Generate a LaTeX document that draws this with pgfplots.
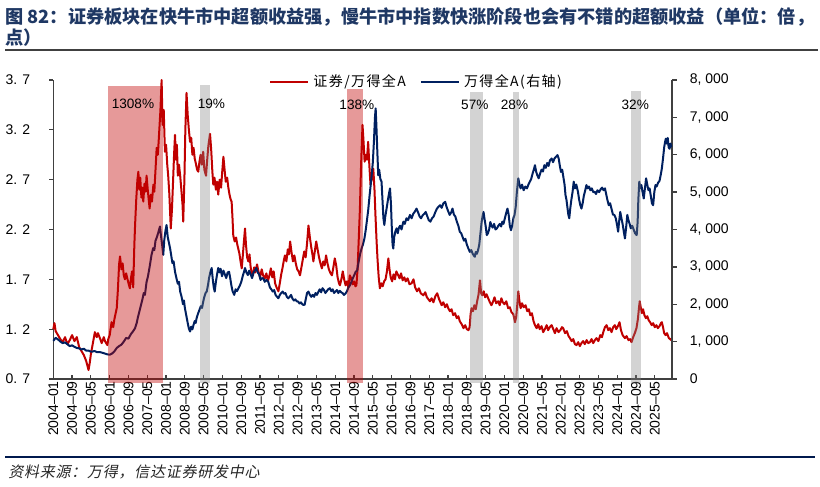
\documentclass[border=0pt]{standalone}
\usepackage{fontspec}
\setmainfont{Liberation Sans}
\newfontfamily\cjk{Noto Sans CJK SC}
\newfontfamily\cjkl[LetterSpace=10]{Noto Sans CJK SC}
\newfontfamily\cjks[LetterSpace=5,FakeSlant=0.2]{Noto Sans CJK SC}
\usepackage{pgfplots}
\pgfplotsset{compat=1.18}
\definecolor{lred}{RGB}{192,0,0}
\definecolor{lnavy}{RGB}{0,32,96}
\definecolor{ttl}{RGB}{31,56,100}
\definecolor{axgray}{RGB}{64,64,64}
\begin{document}
\begin{tikzpicture}
\useasboundingbox (0,0) rectangle (410pt,243.5pt);
\node[anchor=west,inner sep=0pt,text=ttl] at (2.5pt,235pt) {\cjk\bfseries\fontsize{9.1}{11}\selectfont 图 82：证券板块在快牛市中超额收益强，慢牛市中指数快涨阶段也会有不错的超额收益（单位：倍，};
\node[anchor=west,inner sep=0pt,text=ttl] at (2.5pt,224.5pt) {\cjk\bfseries\fontsize{9.1}{11}\selectfont 点）};
\draw[axgray,line width=0.9pt] (2.5pt,218.5pt) -- (409pt,218.5pt);
\draw[lnavy!80!black,line width=0.9pt] (2.5pt,15pt) -- (407.5pt,15pt);
\node[anchor=west,inner sep=0pt,text=black!85] at (4pt,7.5pt) {\cjks\fontsize{7.5}{9}\selectfont 资料来源：万得，信达证券研发中心};

\begin{axis}[
  at={(26.65pt,54pt)}, anchor=south west, scale only axis,
  width=309.2pt, height=149.5pt,
  xmin=0, xmax=263.2, ymin=0.7, ymax=3.7,
  axis y line*=left, axis x line*=bottom,
  axis line style={axgray,line width=0.7pt,-},
  xtick={0,8,...,256},
  xticklabels={2004--01,2004--09,2005--05,2006--01,2006--09,2007--05,2008--01,2008--09,2009--05,2010--01,2010--09,2011--05,2012--01,2012--09,2013--05,2014--01,2014--09,2015--05,2016--01,2016--09,2017--05,2018--01,2018--09,2019--05,2020--01,2020--09,2021--05,2022--01,2022--09,2023--05,2024--01,2024--09,2025--05},
  xticklabel style={rotate=90,anchor=east,font=\fontsize{7}{8}\selectfont,inner sep=1pt},
  x tick style={axgray,line width=0.6pt},
  xtick align=inside, major tick length=2pt,
  ytick={0.7,1.2,1.7,2.2,2.7,3.2,3.7},
  yticklabels={0. 7,1. 2,1. 7,2. 2,2. 7,3. 2,3. 7},
  yticklabel style={font=\fontsize{7}{8}\selectfont,xshift=-6pt},
  ytick align=outside, y tick style={axgray,line width=0.6pt},
  clip=false,
]
\addplot[lred, line width=1pt, line join=round] coordinates {
(0,1.20)(0.5,1.26)(1,1.18)(2,1.14)(3,1.10)(4,1.07)(5,1.12)(6,1.05)(7,1.09)(8,1.14)(9,1.08)(10,1.12)(11,1.02)(12,0.98)(13,0.94)(14,0.88)(15,0.79)(15.5,0.86)(16,0.95)(17,1.08)(17.7,1.17)(18.5,1.12)(19,1.16)(20,1.10)(20.6,1.06)(21.5,1.12)(22,1.08)(23,1.04)(23.4,1.10)(24,1.14)(24.8,1.27)(25.5,1.22)(26,1.30)(27,1.41)(27.5,1.60)(28,1.85)(28.4,1.93)(29,1.80)(29.5,1.86)(30,1.74)(30.5,1.70)(31,1.76)(32,1.66)(32.6,1.61)(33,1.70)(33.5,1.78)(34,1.62)(34.5,2.05)(34.8,2.24)(35.3,2.50)(35.8,2.70)(36.2,2.78)(36.6,2.60)(37,2.72)(37.5,2.52)(38,2.62)(38.3,2.48)(38.8,2.66)(39.3,2.58)(39.7,2.74)(40.2,2.60)(40.6,2.50)(41,2.41)(41.5,2.55)(42,2.48)(42.6,2.65)(43,2.58)(43.5,2.80)(44,3.02)(44.5,2.95)(45,3.15)(45.6,3.40)(46.1,3.70)(46.5,3.25)(47,3.40)(47.5,2.98)(48,3.05)(48.5,2.85)(48.9,2.74)(49.4,2.55)(50,2.21)(50.5,2.40)(51,2.70)(51.4,2.95)(51.8,3.15)(52.2,2.90)(52.6,3.05)(53,2.74)(53.5,2.85)(54,2.74)(54.5,2.60)(55,2.45)(55.3,2.28)(55.8,2.70)(56.2,3.20)(56.7,3.57)(57.2,3.35)(57.7,3.20)(58.2,3.08)(58.7,3.12)(59.2,2.95)(59.7,3.02)(60.2,2.91)(60.7,2.86)(61.2,2.80)(61.7,2.78)(62.2,2.88)(62.7,2.95)(63.2,2.85)(63.8,2.98)(64.3,2.80)(65,2.74)(65.5,2.90)(66,3.04)(66.7,3.16)(67.2,3.00)(67.7,2.78)(68.1,2.65)(68.6,2.72)(69.2,2.60)(69.7,2.68)(70.2,2.55)(70.8,2.70)(71.4,2.62)(71.9,2.78)(72.4,2.93)(72.9,2.80)(73.4,2.68)(74,2.72)(74.5,2.62)(75,2.55)(75.5,2.50)(75.9,2.48)(76.3,2.30)(76.6,2.14)(77.2,2.08)(77.8,2.12)(78.3,2.05)(78.7,2.01)(79.2,1.96)(79.7,1.88)(80.2,1.81)(80.7,1.95)(81.2,2.10)(81.6,2.21)(82,2.05)(82.5,1.92)(83,1.88)(83.5,1.95)(84,1.82)(84.5,1.76)(85,1.74)(85.5,1.82)(86,1.77)(86.7,1.85)(87.3,1.78)(88,1.72)(88.7,1.80)(89.3,1.74)(90,1.71)(90.7,1.76)(91.3,1.68)(92,1.74)(92.6,1.81)(93.2,1.72)(93.8,1.78)(94.4,1.66)(95,1.62)(95.8,1.58)(96.4,1.66)(97,1.75)(97.6,1.82)(98.2,1.90)(98.6,1.94)(99.2,1.88)(99.8,2.00)(100.3,1.95)(100.8,2.08)(101.4,1.97)(102,1.88)(102.6,1.94)(103.2,1.86)(103.8,1.80)(104.4,1.78)(105,1.74)(105.6,1.82)(106.2,1.90)(106.8,1.98)(107.4,1.92)(108,2.06)(108.6,2.24)(109.2,2.12)(109.8,2.02)(110.3,1.95)(110.7,1.88)(111.3,1.98)(111.9,2.08)(112.5,2.00)(113.1,1.92)(113.7,1.86)(114.3,1.81)(114.9,1.88)(115.5,1.84)(116.1,1.94)(116.7,1.86)(117.3,1.80)(118,1.76)(118.6,1.74)(119.2,1.82)(119.8,1.91)(120.4,1.84)(121,1.72)(121.6,1.66)(122,1.64)(122.6,1.70)(123.2,1.78)(123.8,1.70)(124.4,1.64)(125,1.68)(125.6,1.62)(126.2,1.74)(126.8,1.71)(127.4,1.65)(128,1.68)(128.6,1.63)(129,1.64)(129.5,1.80)(130,2.10)(130.5,2.41)(131,2.85)(131.6,3.25)(132,3.10)(132.5,2.88)(133,2.95)(133.5,2.90)(134,3.08)(134.5,2.85)(135,2.65)(135.6,2.72)(136.2,2.81)(136.7,2.60)(137.1,2.35)(137.6,2.08)(138,1.90)(138.5,1.72)(139,1.61)(139.6,1.66)(140.2,1.63)(140.8,1.68)(141.4,1.70)(142,1.78)(142.6,1.91)(143.1,1.80)(143.6,1.72)(144.2,1.68)(144.8,1.75)(145.4,1.70)(146,1.78)(146.8,1.74)(147.4,1.71)(148,1.76)(148.7,1.69)(149.4,1.72)(150,1.68)(150.8,1.71)(151.6,1.65)(152.5,1.66)(153.3,1.70)(154,1.62)(154.8,1.58)(155.6,1.61)(156.4,1.56)(157.5,1.54)(158.3,1.57)(159,1.52)(160.3,1.48)(161,1.51)(161.8,1.47)(162.6,1.53)(163.4,1.56)(164.2,1.50)(165.3,1.44)(166,1.47)(166.8,1.42)(167.5,1.45)(168.1,1.41)(168.8,1.38)(169.5,1.40)(170.2,1.34)(171,1.36)(171.7,1.31)(172.4,1.33)(173,1.28)(173.8,1.25)(174.6,1.21)(175.3,1.24)(176,1.20)(176.7,1.19)(177.2,1.22)(177.6,1.35)(178,1.41)(178.6,1.38)(179.2,1.44)(179.8,1.40)(180.4,1.48)(181,1.55)(181.6,1.69)(182.1,1.56)(182.6,1.54)(183.2,1.58)(183.8,1.52)(184.4,1.55)(185.1,1.51)(185.8,1.47)(186.5,1.44)(187.2,1.48)(187.8,1.52)(188.5,1.46)(189.4,1.48)(190,1.44)(190.7,1.51)(191.3,1.47)(192,1.45)(192.8,1.48)(193.6,1.41)(194.3,1.42)(195,1.37)(195.8,1.35)(196.5,1.27)(197,1.32)(197.5,1.45)(197.9,1.58)(198.4,1.48)(198.9,1.41)(199.5,1.46)(200.2,1.42)(201,1.44)(201.7,1.38)(202.4,1.40)(203,1.34)(203.7,1.36)(204.4,1.28)(205,1.24)(205.7,1.21)(206.4,1.25)(207,1.20)(207.8,1.23)(208.5,1.17)(209.2,1.20)(210,1.24)(210.6,1.19)(211.3,1.22)(212.1,1.24)(212.8,1.20)(213.5,1.16)(214.2,1.21)(215,1.17)(215.8,1.19)(216.5,1.22)(217,1.21)(217.8,1.16)(218.6,1.18)(219.3,1.13)(219.9,1.11)(220.6,1.08)(221.3,1.10)(222,1.05)(222.7,1.04)(223.4,1.07)(224.1,1.03)(224.8,1.06)(225.5,1.08)(226.2,1.05)(227,1.09)(227.7,1.06)(228.4,1.07)(229.1,1.10)(229.8,1.06)(230.5,1.09)(231.2,1.11)(232,1.08)(232.8,1.14)(233.5,1.12)(234.2,1.18)(234.8,1.22)(235.5,1.24)(236.2,1.19)(236.9,1.21)(237.6,1.17)(238.3,1.22)(239,1.24)(239.6,1.20)(240.3,1.23)(241,1.27)(241.6,1.19)(242.3,1.14)(243.3,1.11)(244,1.13)(244.8,1.09)(245.5,1.10)(246.1,1.07)(246.8,1.12)(247.5,1.16)(248.2,1.21)(248.8,1.30)(249.3,1.42)(249.6,1.48)(250,1.42)(250.5,1.36)(251,1.40)(251.6,1.34)(252.2,1.31)(252.8,1.33)(253.4,1.29)(254,1.27)(254.7,1.24)(255.3,1.26)(256,1.22)(256.7,1.24)(257.3,1.21)(258,1.23)(258.6,1.26)(259,1.27)(259.5,1.22)(260,1.16)(260.6,1.14)(261.2,1.16)(262,1.11)(262.6,1.10)(263,1.09)
};
\end{axis}

\begin{axis}[
  at={(26.65pt,54pt)}, anchor=south west, scale only axis,
  width=309.2pt, height=149.5pt,
  xmin=0, xmax=263.2, ymin=0, ymax=8000,
  axis y line*=right, axis x line=none,
  axis line style={axgray,line width=1pt,-},
  ytick={0,1000,...,8000},
  yticklabels={0,{1, 000},{2, 000},{3, 000},{4, 000},{5, 000},{6, 000},{7, 000},{8, 000}},
  yticklabel style={font=\fontsize{7}{8}\selectfont,xshift=3pt},
  ytick align=outside, major tick length=2.5pt, y tick style={axgray,line width=0.7pt},
  clip=false,
  legend columns=2,
  legend style={draw=none,fill=none,at={(0.589,0.993)},anchor=center,
    font=\fontsize{7}{8}\selectfont, /tikz/every even column/.append style={column sep=5pt},
    inner sep=0pt},
  legend image code/.code={\draw[#1,line width=1.1pt] (0pt,0pt) -- (19pt,0pt);},
]
\addlegendimage{lred}
\addlegendentry{\cjkl 证券/万得全A}
\addplot[lnavy, line width=1pt, line join=round] coordinates {
(0,1020)(1,1100)(2,1060)(3,1000)(4,960)(5,980)(6,930)(7,880)(8,900)(9,860)(10,830)(11,820)(12,790)(13,810)(14,760)(15,760)(15.6,740)(16.5,730)(17.5,750)(18.5,720)(19.8,720)(21,700)(22,680)(23,660)(24,650)(25,680)(26,740)(27,830)(28,880)(29,920)(30,1000)(31,1100)(32,1080)(33,1200)(34,1280)(34.8,1360)(35.5,1500)(36,1650)(37,1900)(38,2150)(38.5,2300)(39,2250)(39.7,2600)(40.3,2750)(41,3000)(41.8,3320)(42.5,3500)(43,3450)(43.5,3700)(44,3780)(44.6,3900)(45.4,4080)(45.8,3850)(46.3,3600)(46.8,3320)(47.2,3700)(47.7,3950)(48.2,4120)(48.7,3800)(49.2,3650)(49.7,3500)(50.2,3300)(50.7,3100)(51.2,3150)(51.8,2870)(52.4,2700)(53,2550)(53.5,2600)(54,2340)(54.6,2200)(55.2,2000)(55.6,2100)(56,1900)(56.6,1700)(57.2,1500)(57.7,1350)(58.2,1270)(58.7,1400)(59.2,1330)(59.7,1450)(60.2,1550)(60.6,1500)(61,1630)(61.6,1750)(62.2,1850)(62.8,1950)(63.3,1900)(63.8,2070)(64.3,2200)(64.8,2300)(65.3,2340)(65.8,2500)(66.3,2700)(66.8,2850)(67.4,2970)(67.9,2650)(68.3,2450)(68.7,2340)(69.2,2600)(69.7,2800)(70.2,2970)(70.7,2850)(71.2,2950)(71.8,2750)(72.4,2900)(73,2800)(73.6,2700)(74.2,2850)(74.8,2870)(75.3,2700)(75.8,2500)(76.3,2350)(77,2250)(77.6,2400)(78.2,2350)(78.8,2430)(79.4,2500)(80,2600)(80.6,2750)(81.1,2850)(81.6,2970)(82.2,2850)(82.8,2780)(83.4,2900)(84,2800)(84.6,2700)(85.2,2850)(85.8,2900)(86.4,2970)(87,2850)(87.6,2800)(88.2,2650)(88.8,2700)(89.4,2690)(90,2600)(90.7,2650)(91.5,2600)(92.2,2450)(92.8,2400)(93.4,2340)(94,2380)(94.6,2250)(95.2,2200)(95.8,2160)(96.4,2250)(97,2300)(97.6,2340)(98.2,2280)(98.8,2300)(99.4,2200)(100,2160)(100.6,2200)(101.2,2250)(101.8,2150)(102.4,2100)(103,2130)(103.6,2080)(104.2,2070)(104.8,2020)(105.4,2050)(106,2000)(106.5,1980)(107,1990)(107.5,2150)(108,2300)(108.6,2340)(109.2,2250)(109.8,2200)(110.4,2250)(111,2200)(111.6,2300)(112.2,2250)(112.8,2330)(113.4,2400)(114,2320)(114.6,2430)(115.2,2380)(115.8,2300)(116.4,2350)(117,2400)(117.7,2430)(118.3,2350)(118.9,2400)(119.5,2300)(120.1,2340)(120.7,2380)(121.3,2300)(121.9,2360)(122.5,2320)(123.1,2300)(123.7,2250)(124.3,2280)(125,2350)(125.6,2450)(126.3,2510)(126.9,2600)(127.5,2700)(128.1,2780)(128.7,2870)(129.3,2900)(130,3150)(130.6,3350)(131.2,3490)(131.8,3600)(132.4,3750)(133,4000)(133.4,4200)(134,4500)(134.6,4900)(135.1,5200)(135.5,5450)(136,5800)(136.5,6400)(136.9,7000)(137.2,7240)(137.5,6800)(137.9,6100)(138.3,5450)(138.7,5600)(139.2,5350)(139.7,5280)(140.1,4800)(140.5,4300)(140.9,4120)(141.3,4350)(141.7,4500)(142.2,4700)(142.7,4900)(143.3,5100)(143.7,4700)(144.1,4000)(144.4,3600)(144.7,3490)(145.1,3800)(145.6,3950)(146.1,4030)(146.6,3900)(147.1,4050)(147.6,4100)(148.2,4000)(149,4210)(149.6,4150)(150.3,4300)(151,4250)(151.8,4390)(152.5,4300)(153.2,4420)(153.9,4480)(154.6,4560)(155.3,4450)(155.9,4350)(156.5,4300)(157.2,4380)(157.9,4420)(158.5,4470)(159.2,4350)(159.8,4250)(160.5,4210)(161.2,4300)(161.9,4350)(162.5,4450)(163.2,4550)(163.8,4600)(164.6,4650)(165.3,4580)(166,4700)(166.8,4740)(167.4,4600)(168,4500)(168.7,4390)(169.3,4450)(169.9,4560)(170.5,4400)(171.1,4350)(171.8,4200)(172.4,4100)(173,3940)(173.6,3900)(174.2,3800)(174.8,3700)(175.4,3750)(176,3600)(176.6,3500)(177.3,3400)(177.9,3450)(178.5,3350)(179,3300)(179.4,3270)(179.8,3400)(180.3,3350)(180.8,3450)(181.3,3600)(181.8,3900)(182.3,4200)(182.7,4350)(183.1,4470)(183.5,4300)(184,4100)(184.5,3850)(185,3900)(185.5,4000)(186,4200)(186.5,4100)(187,4050)(187.6,4150)(188.2,4000)(188.8,4030)(189.4,4100)(190,4150)(190.6,4080)(191.1,4210)(191.6,4150)(192.2,4300)(192.8,4450)(193.3,4560)(193.8,4400)(194.3,4100)(194.8,3980)(195.3,4100)(195.8,4300)(196.3,4390)(196.8,4600)(197.3,5000)(197.9,5370)(198.4,5200)(198.9,5100)(199.5,5200)(200.2,5050)(200.9,5150)(201.6,5100)(202.2,5200)(202.8,5280)(203.4,5350)(204,5500)(204.5,5600)(205,5720)(205.5,5550)(206,5450)(206.6,5370)(207.2,5500)(207.8,5600)(208.4,5550)(209,5720)(209.6,5650)(210.2,5780)(210.8,5700)(211.4,5850)(212.1,5900)(212.7,5800)(213.3,5900)(214,5950)(214.6,5990)(215.1,5900)(215.6,5700)(216.1,5540)(216.6,5600)(217.1,5400)(217.6,5200)(218,4920)(218.4,4800)(218.8,4600)(219.2,4400)(219.6,4300)(220,4550)(220.5,4800)(221,5000)(221.5,5280)(222,5100)(222.6,5200)(223.3,5010)(223.8,4800)(224.3,4650)(224.8,4560)(225.3,4700)(225.8,4900)(226.4,5050)(226.9,5190)(227.4,5100)(228,5150)(228.6,5050)(229.2,5100)(229.8,5000)(230.4,5010)(231,4950)(231.6,5050)(232.3,5000)(233,5080)(233.6,5120)(234.2,5050)(234.8,5100)(235.3,4950)(235.8,4800)(236.4,4650)(237,4700)(237.6,4550)(238.2,4400)(238.8,4390)(239.4,4300)(240,4100)(240.4,3940)(240.8,4200)(241.3,4470)(241.8,4300)(242.3,4150)(242.8,3950)(243.3,3760)(243.8,4050)(244.3,4390)(244.8,4250)(245.3,4150)(245.8,4030)(246.4,4100)(247,4000)(247.6,3900)(248.3,3850)(248.7,4200)(249,4800)(249.4,5280)(249.8,5100)(250.3,5190)(250.8,5000)(251.3,4830)(251.8,5100)(252.3,5370)(252.8,5200)(253.3,5050)(253.8,5100)(254.3,4900)(254.8,4700)(255.3,4650)(255.8,5000)(256.3,5190)(256.8,5150)(257.4,5250)(258,5300)(258.5,5450)(259,5630)(259.5,5900)(260,6200)(260.4,6350)(260.7,6430)(261.1,6300)(261.5,6450)(261.9,6200)(262.3,6160)(262.7,6300)(263,6200)
};
\addlegendentry{\cjkl 万得全A(右轴)}
\addplot[draw=none,fill=lred,fill opacity=0.4,forget plot] coordinates {(23.4,-110)(46.8,-110)(46.8,7830)(23.4,7830)} -- cycle;
\addplot[draw=none,fill=gray,fill opacity=0.35,forget plot] coordinates {(62.5,-110)(66.8,-110)(66.8,7860)(62.5,7860)} -- cycle;
\addplot[draw=none,fill=lred,fill opacity=0.4,forget plot] coordinates {(124.9,-110)(131.6,-110)(131.6,7750)(124.9,7750)} -- cycle;
\addplot[draw=none,fill=gray,fill opacity=0.35,forget plot] coordinates {(177.4,-110)(182.7,-110)(182.7,7670)(177.4,7670)} -- cycle;
\addplot[draw=none,fill=gray,fill opacity=0.35,forget plot] coordinates {(195.5,-110)(198.4,-110)(198.4,7670)(195.5,7670)} -- cycle;
\addplot[draw=none,fill=gray,fill opacity=0.35,forget plot] coordinates {(245.8,-110)(250,-110)(250,7700)(245.8,7700)} -- cycle;
\begin{scope}[every node/.style={font=\fontsize{6.8}{8}\selectfont,inner sep=0pt,text=black}]
\node at (axis cs:33.9,7350) {1308\%};
\node at (axis cs:67.3,7350) {19\%};
\node at (axis cs:129.2,7330) {138\%};
\node at (axis cs:179.4,7330) {57\%};
\node at (axis cs:196.3,7330) {28\%};
\node at (axis cs:247.7,7330) {32\%};
\end{scope}
\end{axis}
\end{tikzpicture}
\end{document}
